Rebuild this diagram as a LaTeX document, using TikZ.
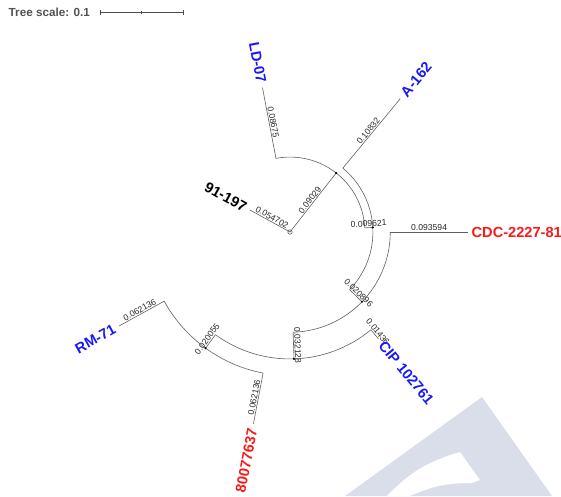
\documentclass[tikz,border=0pt]{standalone}
\usepackage{fontspec}
\setmainfont{Liberation Sans}
\definecolor{leafblue}{RGB}{25,25,245}
\definecolor{leafred}{RGB}{250,25,25}
\definecolor{branchgrey}{RGB}{95,95,95}
\definecolor{markgrey}{RGB}{218,222,234}

\begin{document}
\begin{tikzpicture}[x=1pt, y=1pt,
    branch/.style={draw=branchgrey, line width=0.6pt},
    blen/.style={midway, sloped, above, inner sep=0.8pt, font=\fontsize{8.6}{9}\selectfont, text=black!85},
    leaf/.style={inner sep=0pt, font=\fontsize{14.6}{15}\selectfont\bfseries},
    scalebar/.style={draw=black!70, line width=0.7pt}
]
\useasboundingbox (-290,-264) rectangle (271,232);

\fill[markgrey] (192,-165) -- (262,-264) -- (55,-264) -- cycle;
\fill[white] (170,-220) to[bend right=15] (97,-264) -- (120,-264) to[bend left=12] (182,-251) -- (190,-248) -- cycle;

\node[inner sep=0pt, anchor=east, text=black!68, font=\fontsize{11.7}{12}\selectfont\bfseries] (scale) at (-200,219.5) {Tree scale: 0.1};
\coordinate (sb-l) at (-190,219.5);
\coordinate (sb-m) at (-148.5,219.5);
\coordinate (sb-r) at (-107,219.5);
\draw[scalebar] (sb-l) -- (sb-r);
\draw[scalebar] (sb-l) ++(0,-2.5) -- ++(0,5);
\draw[scalebar] (sb-r) ++(0,-2.5) -- ++(0,5);
\draw[scalebar] (sb-m) ++(0,-1.2) -- ++(0,2.4);

\coordinate (root) at (0,0);
\coordinate (n1) at (51.975:74.94);
\coordinate (t91) at (151.2:45.40);
\coordinate (tld-b) at (100.8:74.94);
\coordinate (tld) at (100.8:146.94);
\coordinate (n2-b) at (3.15:74.94);
\coordinate (n2) at (3.15:82.93);
\coordinate (ta-b) at (50.4:82.93);
\coordinate (ta) at (50.4:172.84);
\coordinate (n3-b) at (-44.1:82.93);
\coordinate (n3) at (-44.1:100.27);
\coordinate (tcdc-b) at (0:100.27);
\coordinate (tcdc) at (0:177.95);
\coordinate (n4-b) at (-88.2:100.27);
\coordinate (n4) at (-88.2:126.94);
\coordinate (tcip-b) at (-50.4:126.94);
\coordinate (tcip) at (-50.4:138.86);
\coordinate (n5-b) at (-126:126.94);
\coordinate (n5) at (-126:143.59);
\coordinate (t800-b) at (-100.8:143.59);
\coordinate (t800) at (-100.8:195.16);
\coordinate (trm-b) at (-151.2:143.59);
\coordinate (trm) at (-151.2:195.16);

\draw[branch] (root) circle[radius=2.2];
\draw[branch] (root) -- node[blen] {0.054702} (t91);
\draw[branch] (root) -- node[blen] {0.09029} (n1);
\draw[branch] (tld-b) arc[start angle=100.8, end angle=3.15, radius=74.94];
\draw[branch] (tld-b) -- node[blen] {0.08675} (tld);
\draw[branch] (n2-b) -- node[blen] {0.009621} (n2);
\draw[branch] (ta-b) arc[start angle=50.4, end angle=-44.1, radius=82.93];
\draw[branch] (ta-b) -- node[blen] {0.10832} (ta);
\draw[branch] (n3-b) -- node[blen] {0.020896} (n3);
\draw[branch] (tcdc-b) arc[start angle=0, end angle=-88.2, radius=100.27];
\draw[branch] (tcdc-b) -- node[blen] {0.093594} (tcdc);
\draw[branch] (n4-b) -- node[blen] {0.032128} (n4);
\draw[branch] (tcip-b) arc[start angle=-50.4, end angle=-126, radius=126.94];
\draw[branch] (tcip-b) -- node[blen] {0.01436} (tcip);
\draw[branch] (n5-b) -- node[blen] {0.020055} (n5);
\draw[branch] (t800-b) arc[start angle=-100.8, end angle=-151.2, radius=143.59];
\draw[branch] (t800-b) -- node[blen] {0.062136} (t800);
\draw[branch] (trm-b) -- node[blen] {0.062136} (trm);

\foreach \k in {n1,n2,n3,n4,n5}
    \fill (\k) circle[radius=1.2];

\node[leaf, anchor=east, rotate=-28.8] (l91) at (151.2:50.4) {91-197};
\node[leaf, text=leafblue, anchor=east, rotate=-79.2] (lld) at (100.8:151.9) {LD-07};
\node[leaf, text=leafblue, anchor=west, rotate=50.4] (la) at (50.4:177.8) {A-162};
\node[leaf, text=leafred, anchor=west] (lcdc) at (0:181.5) {CDC-2227-81};
\node[leaf, text=leafblue, anchor=west, rotate=-50.4] (lcip) at (-50.4:143.8) {CIP 102761};
\node[leaf, text=leafred, anchor=east, rotate=79.2] (l800) at (-100.8:200.1) {80077637};
\node[leaf, text=leafblue, anchor=east, rotate=28.8] (lrm) at (-151.2:200.1) {RM-71};
\end{tikzpicture}
\end{document}
